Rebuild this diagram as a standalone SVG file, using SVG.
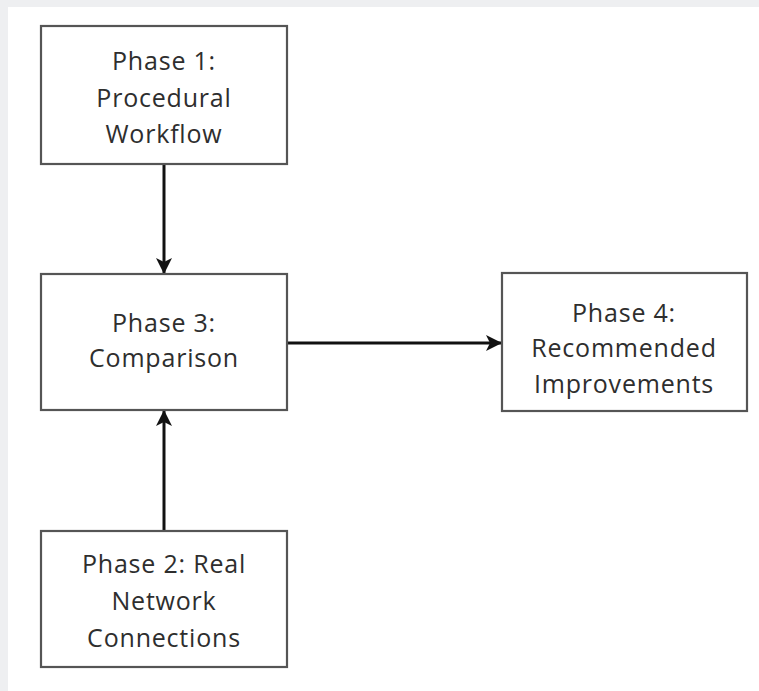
<svg xmlns="http://www.w3.org/2000/svg" width="759" height="691" viewBox="0 0 759 691">
<style>
.box{fill:#fff;stroke:#555;stroke-width:2.2}
.t{font-family:"Open Sans","Liberation Sans",sans-serif;font-size:25px;fill:#2e2e2e;text-anchor:middle;letter-spacing:0.8px}
.c{stroke:#111;stroke-width:3;fill:none}
</style>
<defs>
<marker id="ah" viewBox="0 0 16 16" refX="15" refY="8" markerWidth="16" markerHeight="16" markerUnits="userSpaceOnUse" orient="auto">
<path d="M0,0 L16,8 L0,16 L4,8 Z" fill="#111"/>
</marker>
</defs>
<rect x="0" y="0" width="759" height="691" fill="#eeeff1"/>
<rect x="8" y="7" width="751" height="684" fill="#fff"/>
<g id="connectors">
<line class="c" x1="164" y1="165" x2="164" y2="273" marker-end="url(#ah)"/>
<line class="c" x1="164" y1="530" x2="164" y2="411" marker-end="url(#ah)"/>
<line class="c" x1="288" y1="343" x2="501" y2="343" marker-end="url(#ah)"/>
</g>
<g id="phase1">
<rect class="box" x="41" y="26" width="246" height="138"/>
<text class="t" x="164" y="70">Phase 1:</text>
<text class="t" x="164" y="107">Procedural</text>
<text class="t" x="164" y="143">Workflow</text>
</g>
<g id="phase3">
<rect class="box" x="41" y="274" width="246" height="136"/>
<text class="t" x="164" y="332">Phase 3:</text>
<text class="t" x="164" y="367">Comparison</text>
</g>
<g id="phase4">
<rect class="box" x="502" y="273" width="245" height="138"/>
<text class="t" x="624" y="322">Phase 4:</text>
<text class="t" x="624" y="357">Recommended</text>
<text class="t" x="624" y="393">Improvements</text>
</g>
<g id="phase2">
<rect class="box" x="41" y="531" width="246" height="136"/>
<text class="t" x="164" y="573">Phase 2: Real</text>
<text class="t" x="164" y="610">Network</text>
<text class="t" x="164" y="647">Connections</text>
</g>
</svg>
